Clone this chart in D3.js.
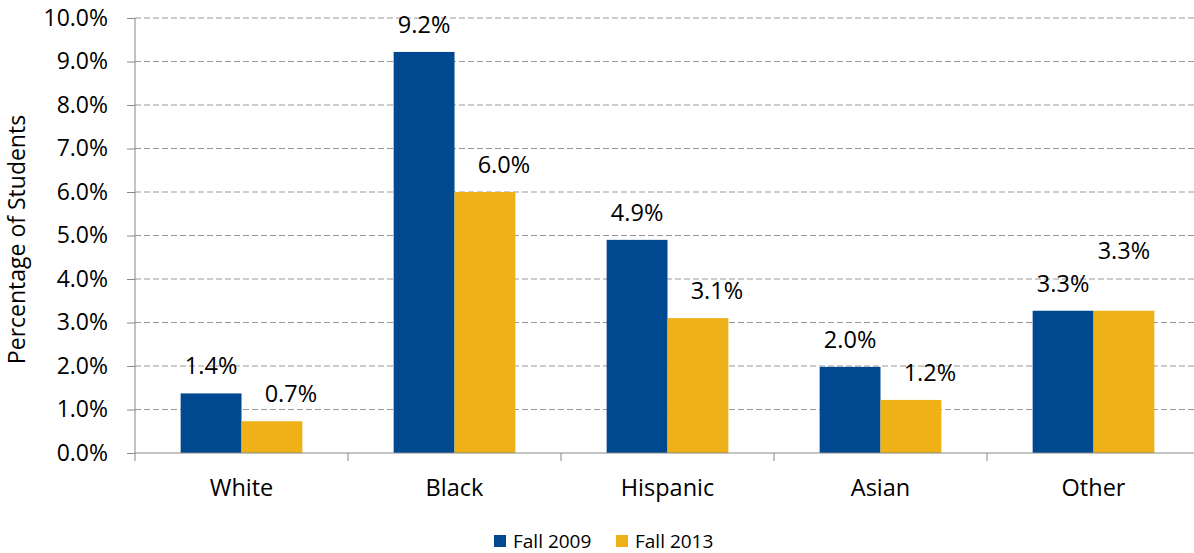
<!DOCTYPE html>
<html>
<head>
<meta charset="utf-8">
<script src="https://cdn.jsdelivr.net/npm/d3@7"></script>
<style>
  body { margin: 0; background: #fff; }
  text { font-family: "Open Sans", sans-serif; fill: #000; }
</style>
</head>
<body>
<svg id="chart" width="1194" height="553"></svg>
<script>
// data
const categories = ["White", "Black", "Hispanic", "Asian", "Other"];
const seriesNames = ["Fall 2009", "Fall 2013"];
const fall2009 = [1.37, 9.22, 4.9, 1.98, 3.27];
const fall2013 = [0.73, 6.0, 3.1, 1.22, 3.27];
const yTicks = [0, 1, 2, 3, 4, 5, 6, 7, 8, 9, 10];

const colors = ["#004990", "#EEB117"];

const svg = d3.select("#chart");
const width = 1194, height = 553;
const plotLeft = 135, plotRight = 1200, plotTop = 18, plotBottom = 453;

const x0 = d3.scaleBand()
    .domain(categories)
    .range([plotLeft, plotRight])
    .paddingInner(0)
    .paddingOuter(0);

const x1 = d3.scaleBand()
    .domain(seriesNames)
    .range([0, x0.bandwidth()])
    .paddingInner(0)
    .paddingOuter(0.75);

const y = d3.scaleLinear()
    .domain([0, 10])
    .range([plotBottom, plotTop]);

// gridlines
svg.append("g")
    .selectAll("line")
    .data(yTicks.filter(d => d > 0))
    .enter().append("line")
    .attr("x1", plotLeft)
    .attr("x2", width)
    .attr("y1", d => y(d))
    .attr("y2", d => y(d))
    .attr("stroke", "#999")
    .attr("stroke-width", 1)
    .attr("stroke-dasharray", "6,3");

// bars
const rows = categories.map((c, i) => ({ cat: c, vals: [fall2009[i], fall2013[i]] }));

const groups = svg.append("g")
    .selectAll("g")
    .data(rows)
    .enter().append("g")
    .attr("transform", d => "translate(" + x0(d.cat) + ",0)");

groups.selectAll("rect")
    .data(d => d.vals.map((v, j) => ({ v: v, s: seriesNames[j], j: j })))
    .enter().append("rect")
    .attr("x", d => x1(d.s))
    .attr("y", d => y(d.v))
    .attr("width", x1.bandwidth())
    .attr("height", d => y(0) - y(d.v))
    .attr("fill", d => colors[d.j]);

// data labels: second-series labels sit a bit to the right,
// or are lifted when the pair is equal
groups.selectAll("text")
    .data(d => d.vals.map((v, j) => ({ v: v, s: seriesNames[j], j: j, tie: d.vals[0] === d.vals[1] })))
    .enter().append("text")
    .attr("x", d => x1(d.s) + x1.bandwidth() / 2 + (d.j === 1 && !d.tie ? 19 : 0))
    .attr("y", d => y(d.v) - 19 - (d.tie && d.j === 1 ? 33 : 0))
    .attr("text-anchor", "middle")
    .attr("font-size", "23.5px")
    .text(d => d.v.toFixed(1) + "%");

// y axis
const yAxis = d3.axisLeft(y)
    .tickValues(yTicks)
    .tickSize(8)
    .tickFormat(d => d.toFixed(1) + "%");

const yg = svg.append("g")
    .attr("transform", "translate(" + plotLeft + ",0)")
    .call(yAxis);
yg.select(".domain").attr("stroke", "#888").attr("d", "M0," + plotTop + "V" + plotBottom);
yg.selectAll(".tick line").attr("stroke", "#888");
yg.selectAll(".tick text")
    .attr("x", -27)
    .attr("font-size", "23px")
    .attr("font-family", "Open Sans, sans-serif")
    .attr("fill", "#000");

// x axis
svg.append("line")
    .attr("x1", plotLeft).attr("x2", width)
    .attr("y1", plotBottom).attr("y2", plotBottom)
    .attr("stroke", "#888");

svg.append("g")
    .selectAll("line")
    .data(categories)
    .enter().append("line")
    .attr("x1", d => x0(d) + x0.bandwidth())
    .attr("x2", d => x0(d) + x0.bandwidth())
    .attr("y1", plotBottom)
    .attr("y2", plotBottom + 8)
    .attr("stroke", "#888");

svg.append("line")
    .attr("x1", plotLeft).attr("x2", plotLeft)
    .attr("y1", plotBottom).attr("y2", plotBottom + 8)
    .attr("stroke", "#888");

svg.append("g")
    .selectAll("text")
    .data(categories)
    .enter().append("text")
    .attr("x", d => x0(d) + x0.bandwidth() / 2)
    .attr("y", 496)
    .attr("text-anchor", "middle")
    .attr("font-size", "23.5px")
    .text(d => d);

// y axis title
svg.append("text")
    .attr("transform", "translate(25," + ((plotTop + plotBottom) / 2 + 4) + ") rotate(-90)")
    .attr("text-anchor", "middle")
    .attr("font-size", "23px")
    .text("Percentage of  Students");

// legend
const legend = svg.append("g")
    .selectAll("g")
    .data(seriesNames)
    .enter().append("g")
    .attr("transform", (d, i) => "translate(" + (494 + i * 122) + ",535)");

legend.append("rect")
    .attr("width", 12)
    .attr("height", 12)
    .attr("fill", (d, i) => colors[i]);

legend.append("text")
    .attr("x", 19)
    .attr("y", 13)
    .attr("font-size", "19px")
    .text(d => d);
</script>
</body>
</html>
